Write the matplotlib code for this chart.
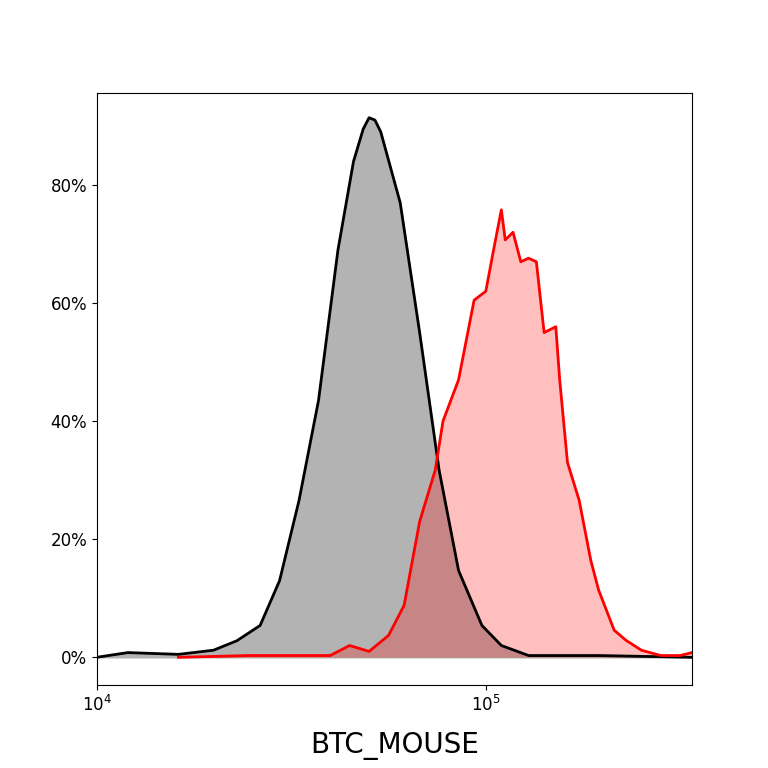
import matplotlib
matplotlib.use("Agg")
import matplotlib.pyplot as plt
from matplotlib.ticker import PercentFormatter, NullLocator
import numpy as np

# log10 of fluorescence, percent of max
ctrl_log = [4.0, 4.08, 4.21, 4.30, 4.36, 4.42, 4.47, 4.52, 4.57, 4.62, 4.66, 4.685, 4.70,
            4.715, 4.73, 4.78, 4.83, 4.88, 4.93, 4.99, 5.04, 5.11, 5.29, 5.53]
ctrl_pct = [0.0, 0.8, 0.5, 1.2, 2.8, 5.4, 13.0, 26.6, 43.5, 69.0, 84.0, 89.5, 91.4,
            91.0, 89.0, 77.0, 55.0, 31.7, 14.7, 5.4, 2.0, 0.3, 0.3, 0.0]

stain_log = [4.21, 4.39, 4.60, 4.65, 4.70, 4.75, 4.79, 4.83, 4.87, 4.89, 4.93, 4.97,
             5.00, 5.02, 5.04, 5.05, 5.07, 5.09, 5.11, 5.13, 5.15, 5.18, 5.19, 5.21,
             5.24, 5.27, 5.29, 5.33, 5.36, 5.40, 5.45, 5.50, 5.53]
stain_pct = [0.0, 0.3, 0.3, 2.0, 1.0, 3.7, 8.8, 23.0, 31.7, 40.0, 47.0, 60.5,
             62.0, 69.0, 75.8, 70.7, 72.0, 67.0, 67.6, 67.0, 55.0, 56.0, 47.0, 33.0,
             26.6, 16.4, 11.4, 4.6, 2.9, 1.2, 0.3, 0.3, 0.8]

fig = plt.figure(figsize=(7.68, 7.68), dpi=100)
ax = fig.add_axes([0.126, 0.108, 0.775, 0.771])

x1 = 10 ** np.array(ctrl_log)
x2 = 10 ** np.array(stain_log)
ax.fill_between(x1, ctrl_pct, color="#b3b3b3")
ax.plot(x1, ctrl_pct, color="black", lw=2)
ax.fill_between(x2, stain_pct, color="red", alpha=0.25, lw=0)
ax.plot(x2, stain_pct, color="red", lw=2)

ax.set_xscale("log")
ax.set_xlim(1e4, 10 ** 5.53)
ax.xaxis.set_minor_locator(NullLocator())
ax.set_ylim(-4.7, 95.6)
ax.set_yticks([0, 20, 40, 60, 80])
ax.yaxis.set_major_formatter(PercentFormatter(decimals=0))
ax.tick_params(labelsize=12)
ax.set_xlabel("BTC_MOUSE", fontsize=20, labelpad=12)

fig.savefig("out.png", dpi=100)
